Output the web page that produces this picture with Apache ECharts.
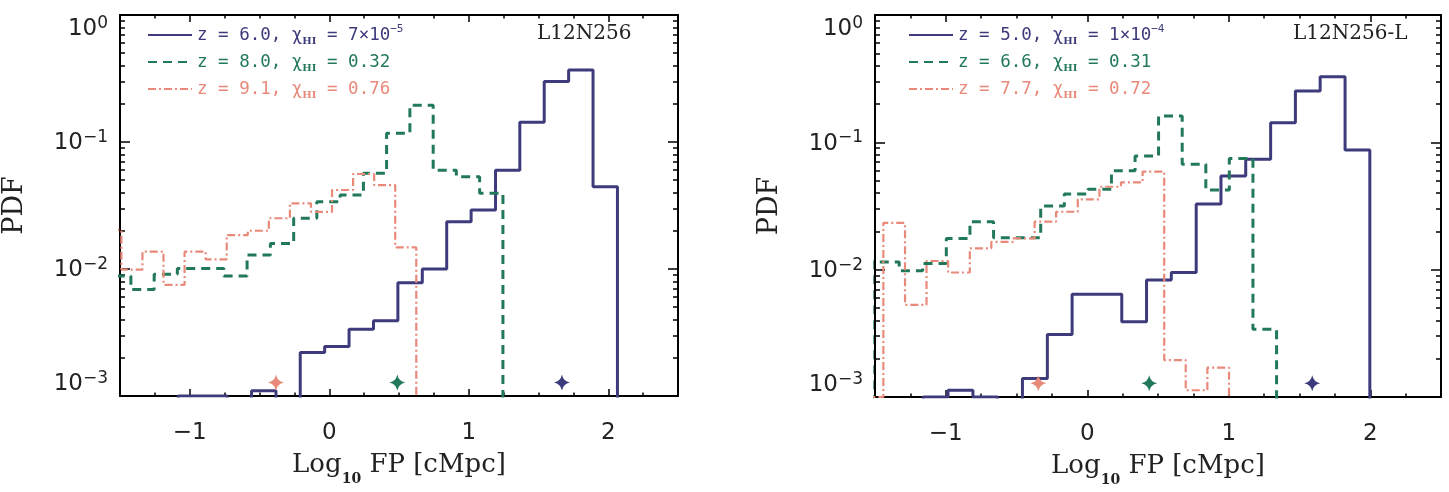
<!DOCTYPE html>
<html>
<head>
<meta charset="utf-8">
<script src="https://cdn.jsdelivr.net/npm/echarts@6/dist/echarts.min.js"></script>
<style>
html,body{margin:0;padding:0;background:#fff}
#chart{width:1449px;height:492px}
</style>
</head>
<body>
<div id="chart"></div>
<script>
// axes
var xRange = [-1.5, 2.5];
var yRange = [0.001, 1];
var xMajor = [-1, 0, 1, 2];
var xMinor = [-1.25, -0.75, -0.5, -0.25, 0.25, 0.5, 0.75, 1.25, 1.5, 1.75, 2.25];
var yMajor = [0.001, 0.01, 0.1, 1];
var yMinor = [0.002, 0.003, 0.004, 0.005, 0.006, 0.007, 0.008, 0.009,
              0.02, 0.03, 0.04, 0.05, 0.06, 0.07, 0.08, 0.09,
              0.2, 0.3, 0.4, 0.5, 0.6, 0.7, 0.8, 0.9];
var OFF = 1e-4; // empty bin, below the plotted range

// left panel, L12N256
var leftBlueEdges = [-1.082, -0.907, -0.732, -0.557, -0.382, -0.208, -0.033, 0.142, 0.317, 0.492,
                     0.667, 0.842, 1.017, 1.192, 1.366, 1.541, 1.716, 1.891, 2.066];
var leftBlueVals = [0.001, 0.001, OFF, 0.0011, OFF, 0.0022, 0.00245, 0.00335, 0.00392, 0.0078,
                    0.0100, 0.0236, 0.0292, 0.060, 0.143, 0.30, 0.369, 0.0445];
var leftGreenEdges = [-1.589, -1.422, -1.255, -1.089, -0.922, -0.755, -0.589, -0.422, -0.255, -0.089,
                      0.078, 0.245, 0.411, 0.578, 0.745, 0.911, 1.078, 1.245];
var leftGreenVals = [0.0088, 0.0069, 0.0091, 0.0101, 0.0101, 0.0088, 0.0129, 0.0159, 0.0251, 0.0339,
                     0.0383, 0.0567, 0.117, 0.195, 0.060, 0.0533, 0.0394];
var leftRedEdges = [-1.641, -1.490, -1.339, -1.188, -1.037, -0.886, -0.735, -0.584, -0.433, -0.282,
                    -0.131, 0.020, 0.171, 0.322, 0.473, 0.624];
var leftRedVals = [0.0203, 0.0099, 0.0137, 0.0075, 0.0137, 0.0119, 0.0185, 0.0200, 0.0251, 0.0329,
                   0.0282, 0.0419, 0.056, 0.0458, 0.0148];
var leftStarX = [1.668, 0.488, -0.382];
var leftZ = ['6.0', '8.0', '9.1'];
var leftXHI = ['7×10^−5', '0.32', '0.76'];

// right panel, L12N256-L
var rightBlueEdges = [-1.159, -0.984, -0.808, -0.633, -0.458, -0.282, -0.107, 0.068, 0.244, 0.419,
                      0.594, 0.770, 0.945, 1.120, 1.296, 1.471, 1.646, 1.822, 1.997];
var rightBlueVals = [0.001, 0.00113, 0.001, OFF, 0.0014, 0.0031, 0.0064, 0.0064, 0.0039, 0.0083,
                     0.0095, 0.0328, 0.0543, 0.0735, 0.1426, 0.253, 0.328, 0.087];
var rightGreenEdges = [-1.52, -1.329, -1.163, -0.996, -0.829, -0.662, -0.496, -0.329, -0.162, 0.004,
                       0.171, 0.338, 0.504, 0.671, 0.838, 1.004, 1.171, 1.338];
var rightGreenVals = [0.0115, 0.0098, 0.0112, 0.0176, 0.0238, 0.0178, 0.0178, 0.0316, 0.0392, 0.0428,
                      0.0598, 0.078, 0.161, 0.0672, 0.0422, 0.0748, 0.0034];
var rightRedEdges = [-1.594, -1.441, -1.288, -1.136, -0.983, -0.830, -0.678, -0.525, -0.372, -0.220,
                     -0.067, 0.086, 0.238, 0.391, 0.544, 0.696, 0.849, 1.002];
var rightRedVals = [0.001, 0.0233, 0.0053, 0.0117, 0.0095, 0.0147, 0.0165, 0.0176, 0.0238, 0.0285,
                    0.0357, 0.0448, 0.0485, 0.0588, 0.00195, 0.00113, 0.0017];
var rightStarX = [1.590, 0.438, -0.346];
var rightZ = ['5.0', '6.6', '7.7'];
var rightXHI = ['1×10^−4', '0.31', '0.72'];

var starY = 0.00128;

var colors = ['#3d3b7c', '#22795a', '#e8897a'];
var lineTypes = ['solid', [9, 6], [8, 3, 2, 3]];
var lineWidths = [3, 3, 2.2];

var panels = [
	{edges: [leftBlueEdges, leftGreenEdges, leftRedEdges], vals: [leftBlueVals, leftGreenVals, leftRedVals],
	 z: leftZ, xhi: leftXHI, stars: leftStarX, label: 'L12N256',
	 grid: {left: 114, top: 15, width: 564, height: 381}, legendLeft: 142, labelX: 537},
	{edges: [rightBlueEdges, rightGreenEdges, rightRedEdges], vals: [rightBlueVals, rightGreenVals, rightRedVals],
	 z: rightZ, xhi: rightXHI, stars: rightStarX, label: 'L12N256-L',
	 grid: {left: 875, top: 15, width: 566, height: 382}, legendLeft: 903, labelX: 1293}
];

function extend(a, b){
	var o = {}, k;
	for(k in a){ o[k] = a[k]; }
	for(k in b){ o[k] = b[k]; }
	return o;
}

function histPoints(edges, vals){
	var n = vals.length;
	var pts = [[edges[0], OFF]];
	for(var i = 0; i < n; i++){
		pts.push([edges[i], vals[i]]);
	}
	pts.push([edges[n], vals[n - 1]]);
	pts.push([edges[n], OFF]);
	return pts;
}

function minus(v){
	return v < 0 ? '\u2212' + (-v) : '' + v;
}

var tickFont = 'DejaVu Sans';
var serif = 'DejaVu Serif';
var tickLine = {color: '#000', width: 1.5};
var boxLine = {onZero: false, lineStyle: {color: '#000', width: 2}};
var noLine = {show: false, onZero: false};

function xAxes(g){
	var base = {gridIndex: g, type: 'value', min: xRange[0], max: xRange[1], splitLine: {show: false}};
	return [
		extend(base, {position: 'bottom', axisLine: boxLine,
			axisTick: {inside: true, length: 7, customValues: xMajor, lineStyle: tickLine},
			axisLabel: {customValues: xMajor, margin: 26, color: '#222', fontFamily: tickFont, fontSize: 23,
				formatter: function(v){ return minus(v); }},
			name: '{a|Log}{s|10}{a| FP [cMpc]}', nameLocation: 'middle', nameGap: 56,
			nameTextStyle: {rich: {
				a: {fontFamily: serif, fontSize: 26, color: '#222', lineHeight: 34, verticalAlign: 'top'},
				s: {fontFamily: serif, fontSize: 14, fontWeight: 'bold', color: '#222', lineHeight: 34, verticalAlign: 'bottom'}}}}),
		extend(base, {position: 'bottom', axisLine: noLine,
			axisTick: {inside: true, length: 3.5, customValues: xMinor, lineStyle: tickLine},
			axisLabel: {show: false}}),
		extend(base, {position: 'top', axisLine: boxLine,
			axisTick: {inside: true, length: 7, customValues: xMajor, lineStyle: tickLine},
			axisLabel: {show: false}}),
		extend(base, {position: 'top', axisLine: noLine,
			axisTick: {inside: true, length: 3.5, customValues: xMinor, lineStyle: tickLine},
			axisLabel: {show: false}})
	];
}

function yAxes(g){
	var base = {gridIndex: g, type: 'log', logBase: 10, min: yRange[0], max: yRange[1], splitLine: {show: false}};
	return [
		extend(base, {position: 'left', axisLine: boxLine,
			axisTick: {inside: true, length: 10, customValues: yMajor, lineStyle: tickLine},
			axisLabel: {customValues: yMajor, margin: 12, verticalAlignMinLabel: 'bottom', verticalAlignMaxLabel: 'top',
				formatter: function(v){
					var e = Math.round(Math.log(v) / Math.LN10);
					return '{b|10}{p|' + minus(e) + '}';
				},
				rich: {
					b: {fontFamily: tickFont, fontSize: 23, color: '#222', lineHeight: 26, verticalAlign: 'bottom'},
					p: {fontFamily: tickFont, fontSize: 17, color: '#222', lineHeight: 17, verticalAlign: 'top'}}},
			name: 'PDF', nameLocation: 'middle', nameGap: 92,
			nameTextStyle: {fontFamily: serif, fontSize: 27, color: '#222'}}),
		extend(base, {position: 'left', axisLine: noLine,
			axisTick: {inside: true, length: 5, customValues: yMinor, lineStyle: tickLine},
			axisLabel: {show: false}}),
		extend(base, {position: 'right', axisLine: boxLine,
			axisTick: {inside: true, length: 10, customValues: yMajor, lineStyle: tickLine},
			axisLabel: {show: false}}),
		extend(base, {position: 'right', axisLine: noLine,
			axisTick: {inside: true, length: 5, customValues: yMinor, lineStyle: tickLine},
			axisLabel: {show: false}})
	];
}

var grids = [], xAxis = [], yAxis = [], series = [], legends = [], graphics = [];
var legendText = {};
var rich = {};
for(var c = 0; c < colors.length; c++){
	rich['t' + c] = {fontFamily: 'DejaVu Sans Mono', fontSize: 17.5, color: colors[c], lineHeight: 22};
	rich['s' + c] = {fontFamily: serif, fontSize: 10, fontWeight: 'bold', color: colors[c], lineHeight: 10, verticalAlign: 'bottom'};
	rich['p' + c] = {fontFamily: 'DejaVu Sans Mono', fontSize: 11, color: colors[c], lineHeight: 11, verticalAlign: 'top'};
}

panels.forEach(function(panel, p){
	grids.push(panel.grid);
	xAxis = xAxis.concat(xAxes(p));
	yAxis = yAxis.concat(yAxes(p));
	var names = [];
	for(var k = 0; k < 3; k++){
		var name = 'z = ' + panel.z[k];
		names.push(name);
		var xhi = panel.xhi[k].split('^');
		legendText[name] = '{t' + k + '|' + name + ', χ}{s' + k + '|HI}{t' + k + '| = ' + xhi[0] + '}' +
			(xhi[1] ? '{p' + k + '|' + xhi[1] + '}' : '');
		series.push({
			type: 'line', name: name, xAxisIndex: p * 4, yAxisIndex: p * 4,
			step: 'end', symbol: 'none', showSymbol: false, silent: true,
			data: histPoints(panel.edges[k], panel.vals[k]),
			lineStyle: {color: colors[k], width: lineWidths[k], type: lineTypes[k]},
			itemStyle: {color: colors[k]}
		});
	}
	series.push({
		type: 'scatter', name: 'median ' + p, xAxisIndex: p * 4, yAxisIndex: p * 4, silent: true,
		symbol: 'path://M0,-10 Q1.6,-1.6 10,0 Q1.6,1.6 0,10 Q-1.6,1.6 -10,0 Q-1.6,-1.6 0,-10 Z',
		symbolSize: 16, z: 5,
		data: panel.stars.map(function(x, k){
			return {value: [x, starY], itemStyle: {color: colors[k], opacity: 1}};
		})
	});
	legends.push({
		orient: 'vertical', left: panel.legendLeft, top: 19, itemWidth: 44, itemHeight: 18, itemGap: 7,
		selectedMode: false, data: names,
		itemStyle: {color: 'rgba(0,0,0,0)', borderWidth: 0, opacity: 0},
		formatter: function(n){ return legendText[n]; },
		textStyle: {rich: rich}
	});
	graphics.push({
		type: 'text', x: panel.labelX, y: 24,
		style: {text: panel.label, font: '20px "DejaVu Serif"', fill: '#222', textVerticalAlign: 'top'}
	});
});

var chart = echarts.init(document.getElementById('chart'));
chart.setOption({
	animation: false,
	backgroundColor: '#fff',
	grid: grids,
	xAxis: xAxis,
	yAxis: yAxis,
	legend: legends,
	graphic: graphics,
	series: series
});
</script>
</body>
</html>
